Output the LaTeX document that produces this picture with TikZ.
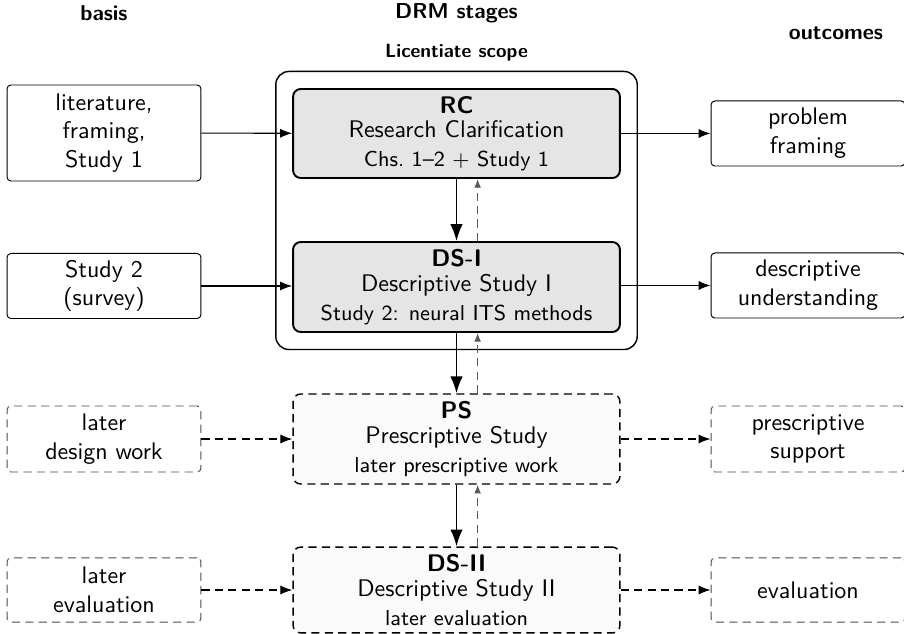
\documentclass[tikz,border=0pt]{standalone}
\usetikzlibrary{arrows.meta,fit}
\begin{document}
\sffamily
\begin{tikzpicture}[x=0.41667pt,y=-0.41667pt,
  every node/.style={font=\sffamily},
  header/.style={font=\sffamily\small\bfseries, inner sep=0pt},
  sidebox/.style={draw, line width=0.4pt, rounded corners=1.6pt, fill=white,
    minimum width=80.8pt, inner sep=0pt, align=center},
  laterside/.style={sidebox, draw=black!70, dash pattern=on 3.4pt off 2.2pt},
  stagebox/.style={draw, line width=0.8pt, rounded corners=3.2pt, fill=black!10,
    minimum width=136.2pt, inner sep=0pt, align=center},
  laterstage/.style={stagebox, fill=black!2, line width=0.6pt,
    dash pattern=on 3.4pt off 2.2pt},
  scopebox/.style={draw, line width=0.6pt, rounded corners=5.5pt},
  flow/.style={-{Latex[length=5pt,width=3.8pt]}, line width=0.45pt},
  laterflow/.style={flow, dash pattern=on 3.4pt off 2.2pt},
  advance/.style={-{Latex[length=7pt,width=5.2pt]}, line width=0.8pt},
  iterate/.style={-{Latex[length=3.6pt,width=2.8pt]}, line width=0.45pt,
    draw=black!65, dash pattern=on 3.4pt off 2.2pt}]
\useasboundingbox (0,0) rectangle (904,634);

% column headers
\node[header] (hbasis) at (104,13) {basis};
\node[header] (hdrm) at (456.5,13) {DRM stages};
\node[header] (hout) at (836,33) {outcomes};

% DRM stages
\node[stagebox, minimum height=37.1pt] (rc) at (456.5,133.5)
  {{\bfseries RC}\\[-1.8pt] Research Clarification\\ {\small Chs.~1--2 + Study~1}};
\node[stagebox, minimum height=37.5pt] (ds1) at (456.5,287)
  {{\bfseries DS-I}\\[-1.8pt] Descriptive Study I\\ {\small Study 2: neural ITS methods}};
\node[laterstage, minimum height=37.5pt] (ps) at (456.5,439)
  {{\bfseries PS}\\[-1.8pt] Prescriptive Study\\ {\small later prescriptive work}};
\node[laterstage, minimum height=35.8pt] (ds2) at (456.5,590)
  {{\bfseries DS-II}\\[-1.8pt] Descriptive Study II\\ {\small later evaluation}};

% licentiate scope frame
\node[scopebox, fit=(rc)(ds1), inner xsep=6.8pt, inner ysep=6.9pt] (scope) {};
\node[font=\sffamily\footnotesize\bfseries, inner sep=0pt] (hscope) at (456.5,53) {Licentiate scope};

% basis
\node[sidebox, minimum height=40pt] (lit) at (104,133) {literature,\\ framing,\\ Study 1};
\node[sidebox, minimum height=27.1pt] (st2) at (104,286) {Study 2\\ (survey)};
\node[laterside, minimum height=27.5pt] (ldw) at (104,439) {later\\ design work};
\node[laterside, minimum height=26.7pt] (lev) at (104,590) {later\\ evaluation};

% outcomes
\node[sidebox, minimum height=27.1pt] (pf) at (808,133.5) {problem\\ framing};
\node[sidebox, minimum height=27.1pt] (du) at (808,285.5) {descriptive\\ understanding};
\node[laterside, minimum height=27.5pt] (psu) at (808,439) {prescriptive\\ support};
\node[laterside, minimum height=26.7pt] (ev) at (808,590) {evaluation};

% inputs and outputs
\draw[flow] (lit) -- (rc);
\draw[flow] (st2.east) -- (st2.east -| ds1.west);
\draw[flow] (rc) -- (pf);
\draw[flow] (ds1.east |- du.west) -- (du.west);
\draw[laterflow] (ldw) -- (ps);
\draw[laterflow] (lev) -- (ds2);
\draw[laterflow] (ps) -- (psu);
\draw[laterflow] (ds2) -- (ev);

% forward progression and iteration
\draw[advance] (rc.south) -- (ds1.north);
\draw[advance] (ds1.south) -- (ps.north);
\draw[advance] (ps.south) -- (ds2.north);
\draw[iterate] ([xshift=8.8pt]ds1.north) -- ([xshift=8.8pt]rc.south);
\draw[iterate] ([xshift=8.8pt]ps.north) -- ([xshift=8.8pt]ds1.south);
\draw[iterate] ([xshift=8.8pt]ds2.north) -- ([xshift=8.8pt]ps.south);
\end{tikzpicture}
\end{document}
